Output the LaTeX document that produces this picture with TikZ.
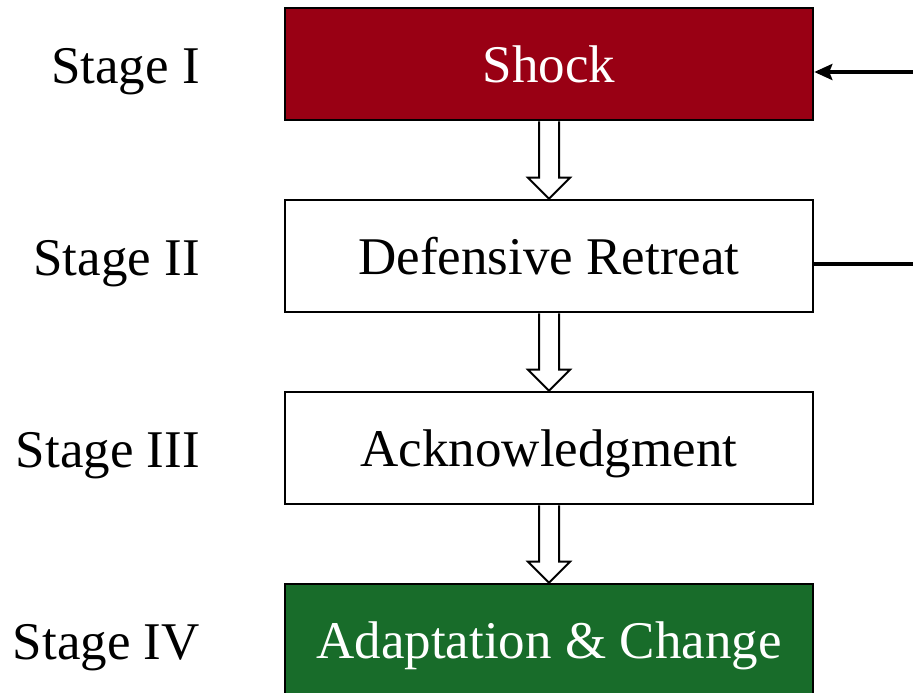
\documentclass[tikz,border=0pt]{standalone}
\usepackage{fontspec}
\setmainfont{Liberation Serif}
\usetikzlibrary{arrows.meta,calc}
\definecolor{shockred}{RGB}{153,0,20}
\definecolor{adaptgreen}{RGB}{24,108,42}
\begin{document}
\begin{tikzpicture}[x=1pt,y=-1pt,
  stagebox/.style={draw=black,line width=2.6pt,minimum width=528pt,minimum height=112pt,
    inner sep=0pt,text depth=0pt,font=\fontsize{53}{60}\selectfont},
  stagelabel/.style={anchor=east,inner sep=0pt,font=\fontsize{53}{60}\selectfont},
  hollowarrow/.style={draw=black,fill=white,line width=2pt,line join=miter},
  feedback/.style={line width=3.6pt}]
\useasboundingbox (0,0) rectangle (913,693);
% the four stages
\node[stagebox,fill=shockred,text=white] (s1) at (549,64) {Shock};
\node[stagebox,fill=white] (s2) at (549,256) {Defensive Retreat};
\node[stagebox,fill=white] (s3) at (549,448) {Acknowledgment};
\node[stagebox,fill=adaptgreen,text=white] (s4) at (549,640) {Adaptation \& Change};
% labels on the left
\node[stagelabel] (l1) at (200,72) {Stage I};
\node[stagelabel] (l2) at (200,264) {Stage II};
\node[stagelabel] (l3) at (200,456) {Stage III};
\node[stagelabel] (l4) at (200,648) {Stage IV};
% hollow block arrows between consecutive stages
\foreach \a/\b in {s1/s2,s2/s3,s3/s4}{
  \draw[hollowarrow] ([xshift=-10pt]\a.south) -- ([xshift=-10pt,yshift=21pt]\b.north)
    -- ([xshift=-21pt,yshift=21pt]\b.north) -- (\b.north)
    -- ([xshift=21pt,yshift=21pt]\b.north) -- ([xshift=10pt,yshift=21pt]\b.north)
    -- ([xshift=10pt]\a.south);
}
% feedback connectors on the right
\coordinate (fin) at (913,72);
\coordinate (fout) at (913,264);
\draw[feedback,-{Stealth[length=18pt,width=16pt,inset=3pt]}] (fin) -- (s1.east |- fin);
\draw[feedback] (s2.east |- fout) -- (fout);
\end{tikzpicture}
\end{document}
